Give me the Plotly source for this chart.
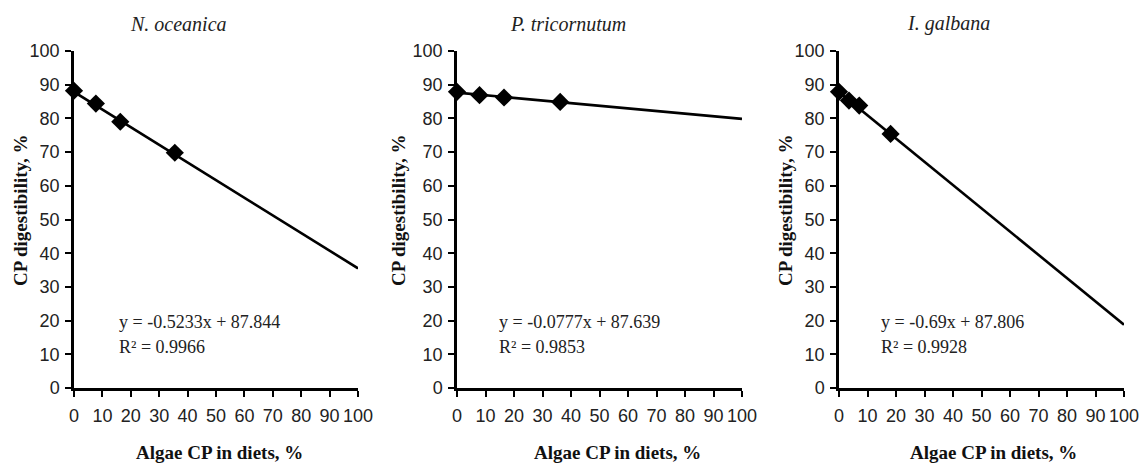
import plotly.graph_objects as go

# ---- data ----
titles = ["N. oceanica", "P. tricornutum", "I. galbana"]
x_noc = [0, 7.7, 16.3, 35.5]
y_noc = [88.2, 84.4, 79.0, 69.8]
x_ptr = [0, 7.9, 16.5, 36.2]
y_ptr = [87.9, 86.9, 86.2, 84.9]
x_iga = [0, 3.5, 7.1, 18.1]
y_iga = [87.9, 85.3, 83.8, 75.4]
slopes = [-0.5233, -0.0777, -0.69]
intercepts = [87.844, 87.639, 87.806]
r2 = ["0.9966", "0.9853", "0.9928"]
eq_text = ["y = -0.5233x + 87.844", "y = -0.0777x + 87.639", "y = -0.69x + 87.806"]
x_ticks = [0, 10, 20, 30, 40, 50, 60, 70, 80, 90, 100]
y_ticks = [0, 10, 20, 30, 40, 50, 60, 70, 80, 90, 100]
trend_x = [0, 100]

xs = [x_noc, x_ptr, x_iga]
ys = [y_noc, y_ptr, y_iga]

W, H = 1146, 463
x_dom_px = [(74, 358), (457, 742), (839, 1124)]
y0_px, y100_px = 388, 51
title_x_px = [178, 568, 948]
ytitle_x_px = [20, 398, 785]
xtitle_x_px = [219, 617, 993]
eq_x_px = [117, 497, 879]

fig = go.Figure()
sans = "Liberation Sans, Arial, sans-serif"
serif = "Liberation Serif, Times New Roman, serif"

for i in range(3):
    sfx = "" if i == 0 else str(i + 1)
    xa, ya = "x" + sfx, "y" + sfx
    tx = trend_x
    ty = [intercepts[i] + slopes[i] * v for v in tx]
    fig.add_trace(go.Scatter(x=tx, y=ty, mode="lines", xaxis=xa, yaxis=ya,
                             line=dict(color="black", width=2.6), cliponaxis=False,
                             showlegend=False, hoverinfo="skip"))
    fig.add_trace(go.Scatter(x=xs[i], y=ys[i], mode="markers", xaxis=xa, yaxis=ya,
                             marker=dict(symbol="diamond", size=14, color="black"),
                             cliponaxis=False, showlegend=False))
    d0, d1 = x_dom_px[i]
    axis_common = dict(showgrid=False, zeroline=False, showline=True, linecolor="black",
                       linewidth=2.5, ticks="outside", ticklen=6, tickwidth=2,
                       tickcolor="black", tickfont=dict(family=sans, size=18, color="#222"),
                       automargin=False, fixedrange=True)
    fig.layout["xaxis" + sfx] = dict(domain=[d0 / W, d1 / W], range=[0, 100],
                                    tickvals=x_ticks, anchor=ya, ticklabelstandoff=4,
                                    **axis_common)
    fig.layout["yaxis" + sfx] = dict(domain=[1 - y0_px / H, 1 - y100_px / H], range=[0, 100],
                                    tickvals=y_ticks, anchor=xa, ticklabelstandoff=2,
                                    **axis_common)
    # panel title
    fig.add_annotation(text=f"<i>{titles[i]}</i>", xref="paper", yref="paper",
                       x=title_x_px[i] / W, y=1 - 24 / H, xanchor="center", yanchor="middle",
                       showarrow=False, font=dict(family=serif, size=20, color="#222"))
    # y title
    fig.add_annotation(text="<b>CP digestibility, %</b>", xref="paper", yref="paper",
                       x=ytitle_x_px[i] / W, y=1 - 210 / H, xanchor="center", yanchor="middle",
                       textangle=-90, showarrow=False,
                       font=dict(family=serif, size=19, color="#111"))
    # x title
    fig.add_annotation(text="<b>Algae CP in diets, %</b>", xref="paper", yref="paper",
                       x=xtitle_x_px[i] / W, y=1 - 452 / H, xanchor="center", yanchor="middle",
                       showarrow=False, font=dict(family=serif, size=19, color="#111"))
    # equation
    ex = (eq_x_px[i] - d0) / ((d1 - d0) / 100)
    fig.add_annotation(text=eq_text[i], xref=xa, yref=ya, x=ex,
                       y=19.6, xanchor="left", yanchor="middle", showarrow=False,
                       font=dict(family=serif, size=18, color="#222"))
    fig.add_annotation(text=f"R² = {r2[i]}", xref=xa, yref=ya, x=ex,
                       y=12.2, xanchor="left", yanchor="middle", showarrow=False,
                       font=dict(family=serif, size=18, color="#222"))

fig.update_layout(width=W, height=H, margin=dict(l=0, r=0, t=0, b=0),
                  paper_bgcolor="white", plot_bgcolor="white", showlegend=False)
fig.write_html("out.html", config={"displayModeBar": False},
               post_script="document.body.style.margin='0';document.body.style.padding='0';")
